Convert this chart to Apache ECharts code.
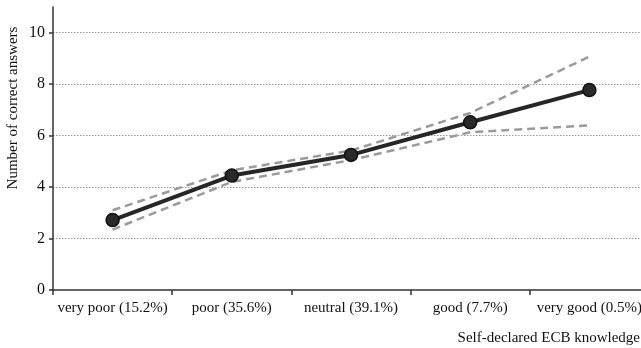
<!DOCTYPE html>
<html><head><meta charset="utf-8">
<script src="https://cdn.jsdelivr.net/npm/echarts@6/dist/echarts.min.js"></script>
<style>html,body{margin:0;padding:0;background:#fff}#c{width:641px;height:348px}</style>
</head><body><div id="c"></div>
<script>
var categories = ['very poor (15.2%)', 'poor (35.6%)', 'neutral (39.1%)', 'good (7.7%)', 'very good (0.5%)'];
var meanValues = [2.72, 4.45, 5.25, 6.52, 7.77];
var upperValues = [3.1, 4.65, 5.42, 6.88, 9.07];
var lowerValues = [2.35, 4.2, 5.05, 6.13, 6.4];
var yTicks = [0, 2, 4, 6, 8, 10];
var yName = 'Number of correct answers';
var xName = 'Self-declared ECB knowledge';

var font = 'Liberation Serif';
var chart = echarts.init(document.getElementById('c'));
var dashStyle = {color: '#9a9a9a', width: 2.5, type: [8, 5]};
chart.setOption({
  animation: false,
  grid: {left: 53, top: 7, bottom: 58, width: 596, containLabel: false, outerBoundsMode: 'none'},
  xAxis: {
    type: 'category', data: categories, boundaryGap: true,
    axisLine: {lineStyle: {color: '#333', width: 1.5}},
    axisTick: {show: true, interval: 0, length: 5, lineStyle: {color: '#333', width: 1.5}},
    axisLabel: {interval: 0, color: '#111', fontFamily: font, fontSize: 15, margin: 11}
  },
  yAxis: {
    type: 'value', min: 0, max: 11, interval: 2,
    axisLine: {show: true, lineStyle: {color: '#333', width: 1.5}},
    axisTick: {show: true, length: 4, lineStyle: {color: '#333', width: 1.5}},
    axisLabel: {color: '#111', fontFamily: font, fontSize: 16, margin: 8, showMaxLabel: false,
      formatter: function (v) { return yTicks.indexOf(v) >= 0 ? String(v) : ''; }},
    splitLine: {show: true, showMaxLine: false, showMinLine: false, lineStyle: {color: '#999', width: 1, type: [1.5, 1.5]}}
  },
  graphic: [
    {type: 'text', x: 13, y: 108, rotation: Math.PI / 2,
     style: {text: yName, fill: '#111', font: '15px "' + font + '"', textAlign: 'center', textVerticalAlign: 'middle'}},
    {type: 'text', x: 640, y: 338,
     style: {text: xName, fill: '#111', font: '15px "' + font + '"', textAlign: 'right', textVerticalAlign: 'middle'}}
  ],
  series: [
    {type: 'line', data: upperValues, symbol: 'none', lineStyle: dashStyle, z: 2},
    {type: 'line', data: lowerValues, symbol: 'none', lineStyle: dashStyle, z: 2},
    {type: 'line', data: meanValues, symbol: 'circle', symbolSize: 13,
     lineStyle: {color: '#262626', width: 4},
     itemStyle: {color: '#2a2a2a', borderColor: '#111', borderWidth: 1.5}, z: 3}
  ]
});
</script></body></html>
